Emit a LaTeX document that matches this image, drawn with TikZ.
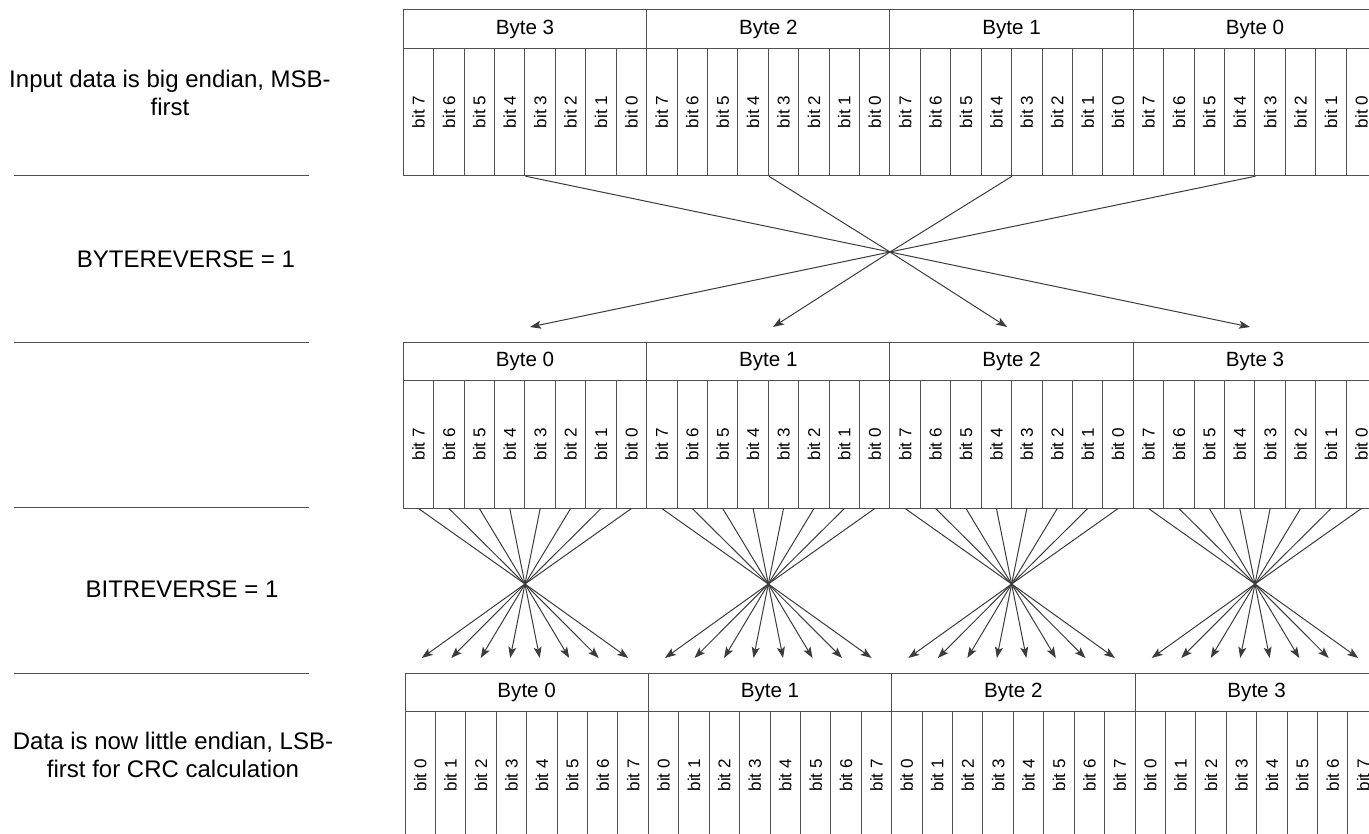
\documentclass[tikz,border=0pt]{standalone}
\usepackage{fontspec}
\setmainfont{Liberation Sans}
\usetikzlibrary{arrows.meta}
\definecolor{linegray}{RGB}{80,80,80}
\definecolor{arrowgray}{RGB}{60,60,60}

\begin{document}
\begin{tikzpicture}[x=1pt, y=-1pt,
    bytebox/.style={draw=linegray, line width=1pt, minimum width=243.33pt, minimum height=38.2pt, inner sep=0pt, font=\fontsize{20.6}{24}\selectfont},
    bitbox/.style={draw=linegray, line width=1pt, rotate=90, minimum width=127.5pt, minimum height=30.42pt, inner sep=0pt, font=\fontsize{17.1}{20}\selectfont},
    sidetext/.style={align=center, font=\fontsize{24}{28.8}\selectfont},
    sepline/.style={draw=linegray, line width=1pt},
    flowtip/.style={draw=arrowgray, line width=1pt, -{Stealth[length=11pt, width=8pt, inset=2.5pt]}}
]
    \clip (0,0) rectangle (1369,834);

    % Side labels
    \node[sidetext] (lin) at (170,93) {Input data is big endian, MSB-\\first};
    \node[sidetext] (lbyte) at (186,259) {BYTEREVERSE = 1};
    \node[sidetext] (lbit) at (182,589) {BITREVERSE = 1};
    \node[sidetext] (lout) at (173,755) {Data is now little endian, LSB-\\first for CRC calculation};
    \foreach \y in {176,342.3,507.3,673} {
        \draw[sepline] (14,\y) -- (309,\y);
    }

    % Input data, big endian
    \foreach \i in {0,...,3} {
        \pgfmathtruncatemacro{\n}{3-\i}
        \node[bytebox] (t\i) at (403.3+243.33*\i+121.67, 10+19.1) {Byte \n};
        \foreach \k in {0,...,7} {
            \pgfmathtruncatemacro{\m}{7-\k}
            \node[bitbox] (t\i-\k) at (403.3+243.33*\i+30.42*\k+15.21, 48.2+63.75) {bit \m};
        }
    }

    % After byte reverse
    \foreach \i in {0,...,3} {
        \node[bytebox] (m\i) at (403.3+243.33*\i+121.67, 342.3+19.1) {Byte \i};
        \foreach \k in {0,...,7} {
            \pgfmathtruncatemacro{\m}{7-\k}
            \node[bitbox] (m\i-\k) at (403.3+243.33*\i+30.42*\k+15.21, 380.5+63.75) {bit \m};
        }
    }

    % After bit reverse, little endian
    \foreach \i in {0,...,3} {
        \node[bytebox] (b\i) at (405+243.33*\i+121.67, 673.3+19.1) {Byte \i};
        \foreach \k in {0,...,7} {
            \node[bitbox] (b\i-\k) at (405+243.33*\i+30.42*\k+15.21, 711.5+63.75) {bit \k};
        }
    }

    % Byte reverse connections
    \coordinate (bx) at (890,252);
    \foreach \j/\tx in {0/530,1/773,2/1007,3/1250} {
        \coordinate (bt\j) at (\tx,327);
    }
    \foreach \i/\j in {0/3,1/2,2/1,3/0} {
        \draw[flowtip] (t\i-3.south west) -- (bx) -- (bt\j);
    }

    % Bit reverse connections
    \foreach \i in {0,...,3} {
        \pgfmathsetmacro{\cx}{403.3+243.33*\i+121.67}
        \coordinate (mx\i) at (\cx, 584);
        \foreach \k in {0,...,7} {
            \pgfmathsetmacro{\tx}{\cx-(30.42*\k+15.21-121.67)*0.97}
            \coordinate (mt\i-\k) at (\tx, 658);
            \draw[flowtip] (m\i-\k.west) -- (mx\i) -- (mt\i-\k);
        }
    }
\end{tikzpicture}
\end{document}
